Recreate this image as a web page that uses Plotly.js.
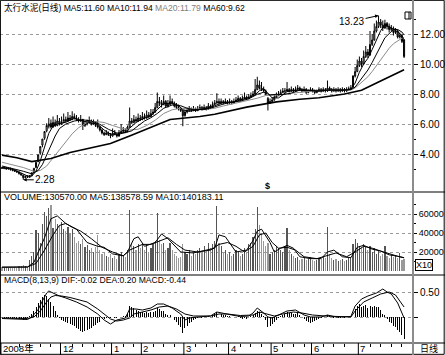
<!DOCTYPE html>
<html><head><meta charset="utf-8">
<script src="https://cdn.plot.ly/plotly-3.0.1.min.js"></script>
<style>html,body{margin:0;padding:0;background:#fff}#c{width:445px;height:355px}</style>
</head><body><div id="c"></div>
<script>
// ---------- data ----------
const monthStart = [0,28,52,66,86,107,127,146,168];
const monthLabels = ['2008年','12','1','2','3','4','5','6','7'];
const weekTicks = [8,13,18,23,33,38,43,48,57,62,71,76,81,91,96,101,112,117,122,132,137,142,151,156,161,173,178,183,188];

const openP = [3.10,3.02,3.10,3.00,3.05,2.95,2.92,2.86,2.80,2.70,
2.60,2.42,2.52,2.45,2.55,2.76,3.10,3.50,4.05,4.60,
5.05,5.55,5.85,6.05,5.80,6.10,5.90,6.20,6.00,6.10,
6.30,6.20,6.40,6.30,6.50,6.40,6.30,6.20,6.30,5.90,
6.00,6.10,6.20,6.00,6.10,5.90,5.80,5.60,5.40,5.30,
5.40,5.30,5.20,5.40,5.30,5.20,5.40,5.50,5.60,5.50,
5.80,6.20,6.10,6.30,6.20,6.40,6.30,6.50,6.40,6.60,
6.50,6.70,6.80,7.10,7.50,7.40,7.30,7.50,7.20,7.30,
7.50,7.40,7.20,7.10,7.00,6.90,6.55,6.80,6.90,7.00,
6.90,7.00,6.90,7.00,7.10,7.00,7.10,7.00,7.20,7.10,
7.30,7.40,7.50,7.40,7.50,7.40,7.50,7.40,7.50,7.40,
7.50,7.60,7.70,7.60,7.70,7.80,7.70,7.80,7.90,8.00,
8.30,8.60,8.40,8.30,8.20,7.70,7.40,7.50,7.60,7.80,
7.90,8.00,8.10,8.20,8.20,8.30,8.20,8.30,8.20,8.30,
8.40,8.30,8.20,8.30,8.10,8.20,8.30,8.20,8.10,8.20,
8.30,8.20,8.30,8.20,8.40,8.30,8.20,8.30,8.20,8.30,
8.20,8.30,8.20,8.30,8.35,8.45,9.20,9.50,9.90,10.20,
10.00,10.50,10.80,10.60,11.30,11.60,12.20,12.50,12.80,12.60,
12.40,12.70,12.50,12.30,12.40,12.10,12.20,11.80,11.90,11.60];
const highP = [3.15,3.15,3.12,3.10,3.08,3.00,2.98,2.90,2.84,2.74,
2.62,2.56,2.58,2.60,2.78,3.05,3.45,3.95,4.50,5.00,
5.50,6.05,6.40,6.30,6.50,6.30,6.60,6.40,6.50,6.70,
6.50,6.80,6.60,6.85,6.70,6.60,6.45,6.60,6.35,6.20,
6.30,6.50,6.30,6.30,6.20,6.30,5.90,5.70,5.50,5.60,
5.50,5.40,5.70,5.60,5.40,5.60,6.00,5.80,5.70,5.90,
7.10,6.40,6.60,6.50,6.70,6.60,6.80,6.70,6.90,6.80,
7.00,7.00,7.40,8.10,7.80,7.60,7.90,7.60,7.60,7.90,
7.70,7.50,7.40,7.30,7.10,6.95,6.95,7.10,7.20,7.10,
7.20,7.10,7.20,7.30,7.20,7.30,7.20,7.40,7.30,7.50,
7.60,8.05,7.70,7.70,7.60,7.70,7.60,7.70,7.60,7.70,
7.80,7.90,7.80,7.90,8.10,7.90,8.00,8.10,8.20,9.00,
9.15,8.90,8.80,8.50,8.30,7.80,7.70,7.80,8.00,8.10,
8.20,8.30,8.40,8.40,8.80,8.40,8.50,8.40,8.50,8.60,
8.50,8.40,8.50,8.40,8.30,8.45,8.40,8.30,8.30,8.45,
8.40,8.45,8.40,8.90,8.50,8.40,8.45,8.40,8.45,8.40,
8.45,8.40,8.45,8.50,8.60,9.25,9.80,10.30,10.50,10.40,
10.90,11.20,11.00,12.20,12.00,12.70,12.90,13.23,13.00,12.90,
12.95,12.80,12.70,12.60,12.50,12.40,12.30,12.10,12.00,11.65];
const lowP = [3.00,3.00,2.95,2.96,2.90,2.85,2.80,2.74,2.62,2.55,
2.28,2.38,2.40,2.42,2.52,2.72,3.05,3.45,3.95,4.45,
4.95,5.45,5.70,5.70,5.75,5.80,5.85,5.90,5.95,6.05,
6.10,6.15,6.20,6.25,6.30,6.20,6.10,6.15,5.60,5.80,
5.90,6.00,5.90,5.95,5.80,5.70,5.50,5.30,5.20,5.25,
5.20,5.05,5.15,5.25,5.10,5.15,5.35,5.40,5.40,5.45,
5.75,6.00,6.05,6.10,6.15,6.20,6.25,6.30,6.35,6.40,
6.45,6.60,6.75,7.05,7.20,7.10,7.25,7.10,7.10,7.25,
7.30,7.10,7.00,6.90,6.80,5.85,6.50,6.70,6.80,6.80,
6.85,6.80,6.85,6.95,6.90,6.95,6.90,6.95,7.00,7.05,
7.25,7.35,7.30,7.35,7.30,7.35,7.30,7.35,7.30,7.35,
7.45,7.55,7.50,7.55,7.65,7.60,7.65,7.75,7.85,7.95,
8.25,8.30,8.20,8.10,7.90,6.90,7.35,7.45,7.55,7.75,
7.85,7.95,8.05,8.00,8.15,8.10,8.15,8.10,8.15,8.25,
8.20,8.10,8.15,8.00,8.05,8.15,8.10,8.00,8.05,8.15,
8.10,8.15,8.10,8.15,8.20,8.10,8.15,8.10,8.15,8.10,
8.15,8.10,8.15,8.25,8.30,8.40,9.10,9.45,9.80,9.80,
9.95,10.40,10.40,10.55,11.20,11.55,12.10,12.40,12.40,12.20,
12.35,12.30,12.10,12.20,11.90,12.00,11.70,11.70,11.40,10.40];
const closeP = [3.05,3.10,3.00,3.05,2.95,2.90,2.85,2.80,2.70,2.60,
2.42,2.50,2.45,2.55,2.75,3.05,3.45,3.95,4.50,5.00,
5.50,5.90,6.00,5.80,6.10,5.90,6.20,6.00,6.10,6.30,
6.20,6.40,6.30,6.50,6.40,6.30,6.20,6.30,5.90,6.00,
6.10,6.20,6.00,6.10,5.90,5.80,5.60,5.40,5.30,5.40,
5.30,5.20,5.40,5.30,5.20,5.40,5.50,5.60,5.50,5.80,
6.20,6.10,6.30,6.20,6.40,6.30,6.50,6.40,6.60,6.50,
6.70,6.80,7.10,7.50,7.40,7.30,7.50,7.20,7.30,7.50,
7.40,7.20,7.10,7.00,6.90,6.55,6.80,6.90,7.00,6.90,
7.00,6.90,7.00,7.10,7.00,7.10,7.00,7.20,7.10,7.30,
7.40,7.50,7.40,7.50,7.40,7.50,7.40,7.50,7.40,7.50,
7.60,7.70,7.60,7.70,7.80,7.70,7.80,7.90,8.00,8.30,
8.60,8.40,8.30,8.20,8.00,7.40,7.50,7.60,7.80,7.90,
8.00,8.10,8.20,8.20,8.30,8.20,8.30,8.20,8.30,8.40,
8.30,8.20,8.30,8.10,8.20,8.30,8.20,8.10,8.20,8.30,
8.20,8.30,8.20,8.40,8.30,8.20,8.30,8.20,8.30,8.20,
8.30,8.20,8.30,8.35,8.40,9.20,9.50,9.90,10.20,10.00,
10.50,10.80,10.60,11.30,11.60,12.20,12.50,12.80,12.60,12.40,
12.70,12.50,12.30,12.40,12.10,12.20,11.80,11.90,11.50,10.50];

// moving averages read at sample points: [bar index, value]
const ma5Pts = [[0,3.1],[5,2.98],[10,2.67],[12,2.53],[14,2.53],[16,2.85],[18,3.54],[20,4.48],[22,5.38],[24,5.86],[26,6.0],[30,6.12],[34,6.38],[38,6.2],[42,6.06],[45,5.98],[48,5.6],[51,5.32],[55,5.32],[58,5.44],[60,5.72],[63,6.1],[66,6.34],[70,6.54],[73,6.96],[76,7.36],[80,7.38],[83,7.24],[85,6.95],[88,6.85],[92,6.94],[96,7.04],[100,7.22],[104,7.44],[108,7.44],[112,7.6],[116,7.76],[119,7.94],[121,8.22],[123,8.36],[125,8.06],[127,7.74],[130,7.74],[134,8.16],[138,8.24],[142,8.28],[146,8.22],[150,8.2],[154,8.28],[158,8.24],[162,8.26],[164,8.31],[166,8.73],[168,9.45],[170,10.0],[172,10.38],[174,10.96],[176,11.62],[178,12.22],[180,12.6],[182,12.5],[184,12.3],[186,12.16],[188,11.88],[189,11.6]];
const ma10Pts = [[0,3.2],[5,3.05],[10,2.85],[14,2.68],[17,2.9],[19,3.3],[21,3.96],[23,4.63],[25,5.2],[27,5.7],[30,6.0],[34,6.2],[38,6.28],[42,6.2],[46,5.98],[50,5.65],[54,5.4],[58,5.42],[61,5.55],[64,5.88],[67,6.2],[70,6.42],[73,6.7],[76,7.05],[80,7.27],[84,7.22],[87,7.05],[90,6.96],[95,6.96],[100,7.14],[104,7.33],[108,7.45],[112,7.53],[116,7.68],[120,7.98],[123,8.12],[126,7.94],[129,7.98],[132,7.96],[136,8.06],[140,8.26],[144,8.24],[148,8.2],[152,8.24],[156,8.26],[160,8.26],[164,8.29],[166,8.46],[168,8.85],[170,9.2],[172,9.6],[174,10.1],[176,10.6],[178,11.2],[180,11.75],[182,12.0],[184,12.3],[186,12.3],[188,12.13],[189,11.94]];
const ma20Pts = [[0,3.45],[5,3.3],[10,3.1],[15,2.85],[18,2.9],[21,3.2],[24,3.75],[27,4.3],[30,4.85],[33,5.35],[36,5.75],[40,6.1],[44,6.17],[48,6.1],[52,5.9],[56,5.72],[60,5.6],[64,5.65],[68,5.9],[72,6.25],[76,6.7],[80,6.95],[84,7.05],[88,7.05],[92,7.0],[96,6.98],[100,7.05],[104,7.2],[108,7.33],[112,7.44],[116,7.55],[120,7.72],[124,7.9],[128,7.9],[132,7.95],[136,8.05],[140,8.12],[144,8.14],[148,8.22],[152,8.24],[156,8.25],[160,8.26],[164,8.27],[166,8.4],[168,8.65],[170,8.9],[172,9.15],[174,9.5],[176,9.9],[178,10.3],[180,10.7],[182,11.05],[184,11.35],[186,11.55],[188,11.72],[189,11.79]];
const ma60Pts = [[0,3.93],[7,3.75],[14,3.5],[23,3.7],[32,4.1],[42,4.4],[51,4.7],[60,5.2],[70,5.8],[79,6.3],[93,6.5],[100,6.65],[115,7.13],[129,7.47],[140,7.65],[149,7.75],[161,8.0],[169,8.25],[177,8.8],[189,9.62]];

const volume = [4000,3500,4200,3000,3800,3200,4500,3600,4800,5200,
6000,5000,4500,12000,16000,20000,43000,40000,30000,50000,
62000,58000,66000,69000,45000,55000,50000,48000,52000,44000,
42000,46000,40000,44000,36000,30000,32000,28000,34000,25000,
27000,22000,24000,20000,25000,38000,22000,18000,20000,16000,
15000,18000,14000,16000,13000,18000,20000,17000,15000,22000,
64000,30000,26000,22000,28000,24000,30000,22000,26000,20000,
24000,28000,32000,61000,33000,28000,30000,22000,24000,30000,
22000,18000,16000,14000,15000,28000,20000,18000,22000,16000,
20000,18000,22000,24000,20000,26000,22000,30000,24000,28000,
32000,68000,30000,26000,20000,22000,18000,20000,16000,18000,
22000,20000,16000,18000,24000,20000,28000,30000,36000,44000,
67000,48000,40000,32000,26000,30000,18000,20000,22000,26000,
24000,22000,20000,26000,45000,22000,18000,16000,14000,15000,
12000,13000,14000,12000,13000,15000,12000,11000,12000,14000,
13000,15000,14000,46000,18000,14000,12000,13000,11000,12000,
13000,11000,12000,14000,15000,28000,34000,30000,26000,24000,
28000,25000,22000,26000,20000,24000,18000,22000,16000,18000,
26000,16000,14000,17000,15000,16000,14000,19000,12000,13057];
const volMa5Pts = [[0,4000],[12,4200],[15,9000],[20,35000],[23,55000],[26,58000],[30,50000],[35,44000],[40,30000],[45,26000],[48,25000],[52,18000],[57,16000],[59,20000],[62,34000],[64,36000],[67,26000],[72,30000],[75,39000],[78,34000],[84,20000],[90,19000],[96,22000],[100,24000],[102,38000],[105,36000],[110,20000],[115,22000],[118,32000],[120,42000],[122,44000],[126,30000],[128,20000],[131,24000],[134,27000],[137,24000],[140,15000],[145,13000],[150,13000],[153,20000],[156,22000],[160,15000],[164,14000],[167,25000],[170,27000],[174,23000],[178,21000],[182,17000],[186,15500],[189,13858]];
const volMa10Pts = [[0,4000],[12,4200],[16,8000],[20,22000],[24,38000],[27,48000],[30,50000],[33,46000],[37,42000],[42,34000],[47,25000],[52,20000],[57,16000],[60,22000],[63,25000],[66,28000],[70,28000],[75,32000],[78,35000],[82,28000],[86,22000],[92,20000],[98,22000],[102,28000],[106,30000],[110,26000],[114,20000],[118,26000],[121,38000],[124,40000],[127,30000],[130,24000],[134,25000],[138,22000],[142,15000],[148,13000],[153,16000],[157,19000],[162,15000],[166,20000],[170,26000],[174,24000],[178,21000],[182,18000],[186,15500],[189,14018]];

const macdHist = [-0.02,-0.01,-0.02,-0.01,-0.02,-0.03,-0.02,-0.03,-0.03,-0.04,
-0.05,-0.03,-0.02,0.02,0.06,0.12,0.20,0.28,0.34,0.40,
0.44,0.42,0.36,0.30,0.22,0.12,0.04,-0.02,-0.06,-0.08,
-0.10,-0.12,-0.14,-0.16,-0.18,-0.22,-0.24,-0.28,-0.30,-0.28,
-0.26,-0.24,-0.22,-0.18,-0.16,-0.12,-0.10,-0.08,-0.04,-0.02,
-0.02,-0.01,0.00,-0.02,-0.01,0.00,0.01,0.02,0.02,0.06,
0.22,0.20,0.18,0.14,0.12,0.10,0.10,0.08,0.10,0.08,
0.10,0.10,0.12,0.18,0.16,0.12,0.12,0.06,0.04,0.04,
0.00,-0.06,-0.10,-0.16,-0.20,-0.32,-0.22,-0.18,-0.12,-0.10,
-0.06,-0.04,-0.02,0.00,-0.01,0.01,0.00,0.02,0.01,0.04,
0.06,0.10,0.08,0.06,0.04,0.04,0.02,0.02,0.00,0.00,
0.01,0.02,-0.02,-0.03,-0.02,-0.03,0.00,0.02,0.04,0.08,
0.12,0.10,0.06,0.02,-0.06,-0.20,-0.18,-0.14,-0.10,-0.06,
-0.02,0.02,0.04,0.06,0.10,0.08,0.08,0.06,0.06,0.08,
0.04,0.00,-0.04,-0.08,-0.10,-0.12,-0.10,-0.08,-0.06,-0.03,
-0.02,0.00,0.00,0.04,0.03,0.01,-0.02,-0.03,-0.02,-0.02,
0.00,-0.01,0.00,0.00,0.01,0.10,0.16,0.22,0.26,0.20,
0.22,0.24,0.18,0.22,0.20,0.22,0.20,0.20,0.14,0.06,
0.04,-0.04,-0.10,-0.12,-0.18,-0.20,-0.26,-0.30,-0.36,-0.44];
const difPts = [[0,-0.03],[12,-0.05],[14,0.0],[17,0.15],[19,0.32],[21,0.48],[22,0.52],[24,0.48],[27,0.42],[30,0.38],[35,0.3],[40,0.2],[45,0.06],[48,-0.06],[51,-0.14],[54,-0.06],[58,-0.02],[60,0.16],[63,0.16],[66,0.14],[70,0.18],[73,0.26],[76,0.26],[80,0.18],[84,0.06],[86,-0.06],[88,-0.02],[92,0.0],[98,0.02],[101,0.1],[104,0.08],[108,0.04],[112,0.01],[116,0.02],[118,0.08],[120,0.18],[123,0.08],[125,0.0],[127,-0.02],[130,0.04],[134,0.12],[138,0.14],[142,0.04],[145,0.0],[150,0.0],[153,0.04],[157,0.0],[164,0.01],[166,0.22],[169,0.36],[172,0.42],[176,0.48],[179,0.56],[181,0.5],[183,0.46],[186,0.28],[188,0.1],[189,-0.02]];
const deaPts = [[0,-0.02],[12,-0.03],[15,0.0],[18,0.12],[21,0.3],[23,0.4],[25,0.43],[28,0.42],[32,0.39],[35,0.36],[40,0.3],[45,0.16],[48,0.06],[51,-0.04],[54,-0.08],[57,-0.06],[60,-0.02],[62,0.06],[66,0.1],[70,0.14],[74,0.2],[78,0.22],[82,0.16],[86,0.06],[90,0.02],[98,0.02],[102,0.06],[106,0.06],[112,0.03],[118,0.04],[121,0.1],[125,0.06],[128,0.02],[132,0.06],[137,0.1],[141,0.08],[146,0.04],[152,0.02],[164,0.0],[166,0.12],[170,0.3],[174,0.38],[178,0.46],[182,0.5],[185,0.44],[187,0.32],[189,0.2]];

const priceTitle = '太行水泥(日线) MA5:11.60 MA10:11.94 <span style="color:#808080">MA20:11.79</span> MA60:9.62';
const volTitle = 'VOLUME:130570.00 MA5:138578.59 MA10:140183.11';
const macdTitle = 'MACD(8,13,9) DIF:-0.02 DEA:0.20 MACD:-0.44';

// ---------- chart ----------
const idx = closeP.map((_, i) => i);
const px = a => a.map(p => p[0]);
const py = a => a.map(p => p[1]);
const TF = 'Liberation Sans, Noto Sans CJK SC, sans-serif';
const H = 343; // plot area height (px)
const P = v => (H - v) / H; // pixel y -> paper

function line(pts, yax, color, w) {
  return {type:'scatter', mode:'lines', x:px(pts), y:py(pts), xaxis:'x', yaxis:yax,
    line:{color:color, width:w}, hoverinfo:'skip'};
}

const traces = [
  {type:'candlestick', x:idx, open:openP, high:highP, low:lowP, close:closeP, xaxis:'x', yaxis:'y',
   increasing:{line:{color:'#000', width:1}, fillcolor:'#fff'},
   decreasing:{line:{color:'#000', width:1}, fillcolor:'#8a8a8a'},
   whiskerwidth:0, hoverinfo:'skip'},
  line(ma20Pts, 'y', '#8c8c8c', 1),
  line(ma10Pts, 'y', '#000', 1),
  line(ma5Pts, 'y', '#000', 1),
  line(ma60Pts, 'y', '#000', 1.7),
  {type:'bar', x:idx, y:volume, xaxis:'x', yaxis:'y2', width:0.55,
   marker:{color:closeP.map((c,i)=> c>=openP[i] ? '#555' : '#999'), line:{width:0}}, hoverinfo:'skip'},
  line(volMa10Pts, 'y2', '#000', 1),
  line(volMa5Pts, 'y2', '#000', 1),
  {type:'bar', x:idx, y:macdHist, xaxis:'x', yaxis:'y3', width:0.45,
   marker:{color:'#000', line:{width:0}}, hoverinfo:'skip'},
  line(deaPts, 'y3', '#000', 1),
  line(difPts, 'y3', '#000', 1)
];

const dP = [P(192), 1], dV = [P(275), P(192)], dM = [0, P(275)];
const W = 413, XR = 445 / W, YB = P(355);
const shapes = [
  {type:'rect', xref:'paper', yref:'paper', x0:0.001, x1:XR - 0.002, y0:YB + 0.002, y1:0.999, line:{color:'#000', width:1}},
  {type:'line', xref:'paper', yref:'paper', x0:0, x1:XR, y0:dP[0], y1:dP[0], line:{color:'#000', width:1}},
  {type:'line', xref:'paper', yref:'paper', x0:0, x1:XR, y0:dV[0], y1:dV[0], line:{color:'#000', width:1}},
  {type:'line', xref:'paper', yref:'paper', x0:0, x1:XR, y0:0, y1:0, line:{color:'#000', width:1}},
  {type:'line', xref:'paper', yref:'paper', x0:1, x1:1, y0:YB, y1:1, line:{color:'#8c8c8c', width:2}},
  {type:'rect', xref:'paper', yref:'paper', x0:405/W, x1:411/W, y0:P(19), y1:P(12), line:{color:'#000', width:1}},
  {type:'line', xref:'paper', yref:'paper', x0:409/W, x1:409/W, y0:P(19), y1:P(12), line:{color:'#000', width:1}}
];
monthStart.forEach(m => shapes.push({type:'line', xref:'x', yref:'paper', x0:m - 0.5, x1:m - 0.5, y0:0, y1:YB, line:{color:'#000', width:1}}));

const annotations = [
  {xref:'paper', yref:'paper', x:2/W, y:P(7), xanchor:'left', yanchor:'middle', text:priceTitle, showarrow:false, font:{family:TF, size:8.6, color:'#000'}},
  {xref:'paper', yref:'paper', x:2/W, y:P(197), xanchor:'left', yanchor:'middle', text:volTitle, showarrow:false, font:{family:TF, size:9, color:'#000'}},
  {xref:'paper', yref:'paper', x:2/W, y:P(280), xanchor:'left', yanchor:'middle', text:macdTitle, showarrow:false, font:{family:TF, size:8.6, color:'#000'}},
  {xref:'x', yref:'y', x:177, y:13.23, text:'13.23', showarrow:true, ax:-27, ay:6, arrowhead:2, arrowsize:0.7, arrowwidth:1, arrowcolor:'#000', font:{family:'Liberation Sans', size:10, color:'#000'}},
  {xref:'x', yref:'y', x:10, y:2.28, text:'2.28', showarrow:true, ax:22, ay:0, arrowhead:2, arrowsize:0.7, arrowwidth:1, arrowcolor:'#000', font:{family:'Liberation Sans', size:10, color:'#000'}},
  {xref:'x', yref:'paper', x:125, y:P(186), text:'<b>$</b>', showarrow:false, font:{family:'Liberation Sans', size:9, color:'#000'}},
  {xref:'paper', yref:'paper', x:415/W, y:P(265), xanchor:'left', yanchor:'middle', text:'X10', showarrow:false, bordercolor:'#000', borderwidth:1, borderpad:0, font:{family:'Liberation Sans', size:9, color:'#000'}},
  {xref:'paper', yref:'paper', x:429/W, y:P(348.6), xanchor:'center', yanchor:'middle', borderpad:0, text:'日线', showarrow:false, font:{family:'Noto Sans CJK SC', size:9, color:'#000'}}
];
monthStart.forEach((m, k) => annotations.push({xref:'x', yref:'paper', x:m - 0.5, y:P(348.6), xanchor:'left', yanchor:'middle', xshift:1, borderpad:0, text:monthLabels[k], showarrow:false, font:{family:TF, size:9.5, color:'#000'}}));

const yCommon = {side:'right', anchor:'x', ticks:'outside', ticklen:4, tickcolor:'#000', showgrid:true, gridcolor:'#9a9a9a', griddash:'dot', gridwidth:1, zeroline:false, showline:false, tickfont:{family:'Liberation Sans', size:10, color:'#000'}, fixedrange:true};

const layout = {
  width:445, height:355, margin:{l:0, r:32, t:0, b:12, pad:0},
  paper_bgcolor:'#fff', plot_bgcolor:'#fff', showlegend:false, bargap:0,
  font:{family:'Liberation Sans', size:10, color:'#000'},
  xaxis:{domain:[0,1], range:[-0.94, 193.2], anchor:'y3', showgrid:false, zeroline:false, showline:false,
    showticklabels:false, ticks:'outside', tickmode:'array', tickvals:weekTicks, ticklen:3, tickcolor:'#000',
    rangeslider:{visible:false}, fixedrange:true},
  yaxis:Object.assign({}, yCommon, {domain:dP, range:[1.467, 14.267], tickmode:'array', tickvals:[4,6,8,10,12], tickformat:'.2f',
    minor:{tickmode:'array', tickvals:[3,5,7,9,11,13], ticks:'outside', ticklen:2, tickcolor:'#000', showgrid:false}}),
  yaxis2:Object.assign({}, yCommon, {domain:dV, range:[-4211, 83158], tickmode:'array', tickvals:[20000,40000,60000], tickformat:'d',
    ticklen:3, tickfont:{family:'Liberation Sans', size:9, color:'#000'},
    minor:{tickmode:'array', tickvals:[10000,30000,50000,70000], ticks:'outside', ticklen:2, tickcolor:'#000', showgrid:false}}),
  yaxis3:Object.assign({}, yCommon, {domain:dM, range:[-0.52, 0.84], tickmode:'array', tickvals:[0,0.5], ticktext:['','0.50']}),
  shapes:shapes, annotations:annotations
};

Plotly.newPlot('c', traces, layout, {staticPlot:true, displayModeBar:false});
</script></body></html>
